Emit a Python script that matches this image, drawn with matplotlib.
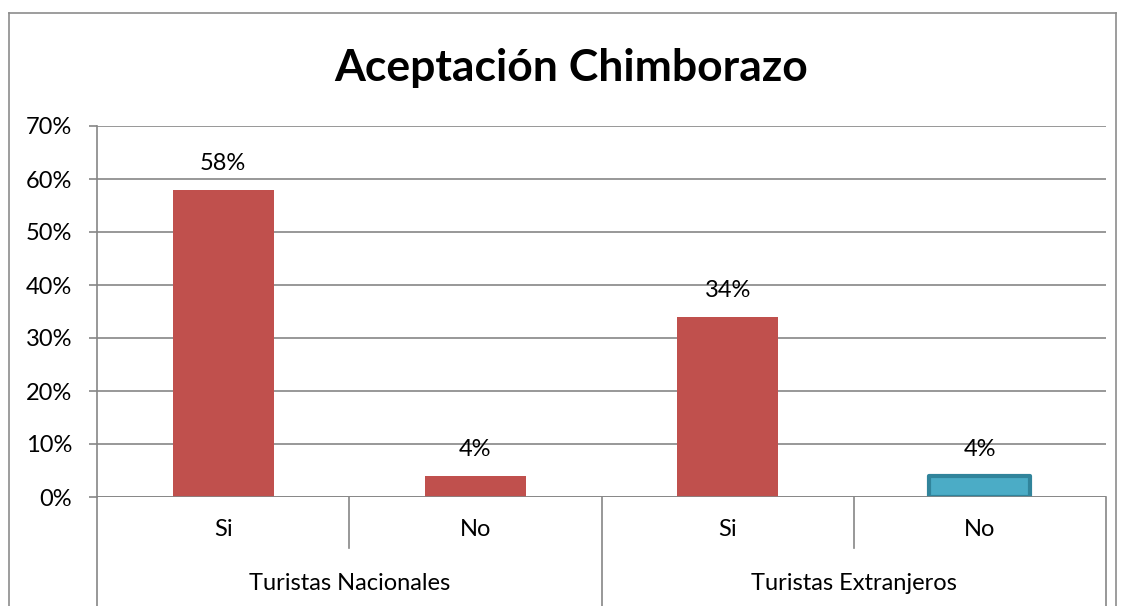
import matplotlib
matplotlib.use("Agg")
import matplotlib.pyplot as plt
from matplotlib.lines import Line2D
import matplotlib.transforms as mtransforms

plt.rcParams['font.family'] = ['Lato', 'DejaVu Sans']

title = "Aceptación Chimborazo"
sub_labels = ["Si", "No", "Si", "No"]
groups = ["Turistas Nacionales", "Turistas Extranjeros"]
values = [0.58, 0.04, 0.34, 0.04]
yticks = [0, 0.1, 0.2, 0.3, 0.4, 0.5, 0.6, 0.7]

W, H = 1123, 606
fig = plt.figure(figsize=(W / 100, H / 100), dpi=100)
ax = fig.add_axes([97 / W, (H - 497) / H, (1106 - 97) / W, (497 - 126) / H])

grid_c = "#868686"
red = "#C0504D"
blue = "#4BACC6"
blue_edge = "#31849B"
fs = 17

x = list(range(len(values)))
colors = [red, red, red, blue]
bars = ax.bar(x, values, width=0.4, color=colors, zorder=3)
bars[3].set_edgecolor(blue_edge)
bars[3].set_linewidth(3)
bars[3].set_joinstyle('round')

for xi, v in zip(x, values):
    ax.annotate(f"{v*100:.0f}%", (xi, v), xytext=(0, 19), textcoords="offset points",
                ha="center", va="center", fontsize=fs, color="black")

ax.set_xlim(-0.5, len(values) - 0.5)
ax.set_ylim(0, 0.7)
ax.set_yticks(yticks)
ax.set_yticklabels([f"{t*100:.0f}%" for t in yticks], fontsize=fs)
ax.yaxis.grid(True, color=grid_c, linewidth=1.2, zorder=0)
ax.tick_params(axis='y', length=6, width=1.2, color=grid_c, pad=12)
ax.set_xticks([])
for s in ["top", "right", "bottom"]:
    ax.spines[s].set_visible(False)
ax.spines["left"].set_color(grid_c)
ax.spines["left"].set_linewidth(1.2)
ax.axhline(0, color=grid_c, linewidth=1.2, zorder=4)

trans = mtransforms.blended_transform_factory(ax.transData, ax.transAxes)
short_bottom = -(548 - 497) / 371
long_bottom = -(606 - 497) / 371 - 0.02
for i, xs in enumerate([-0.5, 0.5, 1.5, 2.5, 3.5]):
    yb = long_bottom if i % 2 == 0 else short_bottom
    ax.add_line(Line2D([xs, xs], [0, yb], transform=trans, color=grid_c,
                       linewidth=1.2, clip_on=False))

for xi, lab in zip(x, sub_labels):
    ax.text(xi, -(530 - 497) / 371, lab, transform=trans, ha="center", va="center",
            fontsize=fs)
for gi, g in enumerate(groups):
    ax.text(gi * 2 + 0.5, -(583 - 497) / 371, g, transform=trans, ha="center",
            va="center", fontsize=fs)

fig.text(571 / W, 1 - 68 / H, title, ha="center", va="center", fontsize=32,
         fontweight="bold")

# chart area border
bx0, bx1, by = 8.5 / W, 1115.5 / W, 1 - 12.5 / H
for xs, ys in [([bx0, bx0], [by, -0.1]), ([bx0, bx1], [by, by]), ([bx1, bx1], [by, -0.1])]:
    fig.add_artist(Line2D(xs, ys, transform=fig.transFigure, color="#8C8C8C", linewidth=1.2))

fig.savefig("out.png", dpi=100)
